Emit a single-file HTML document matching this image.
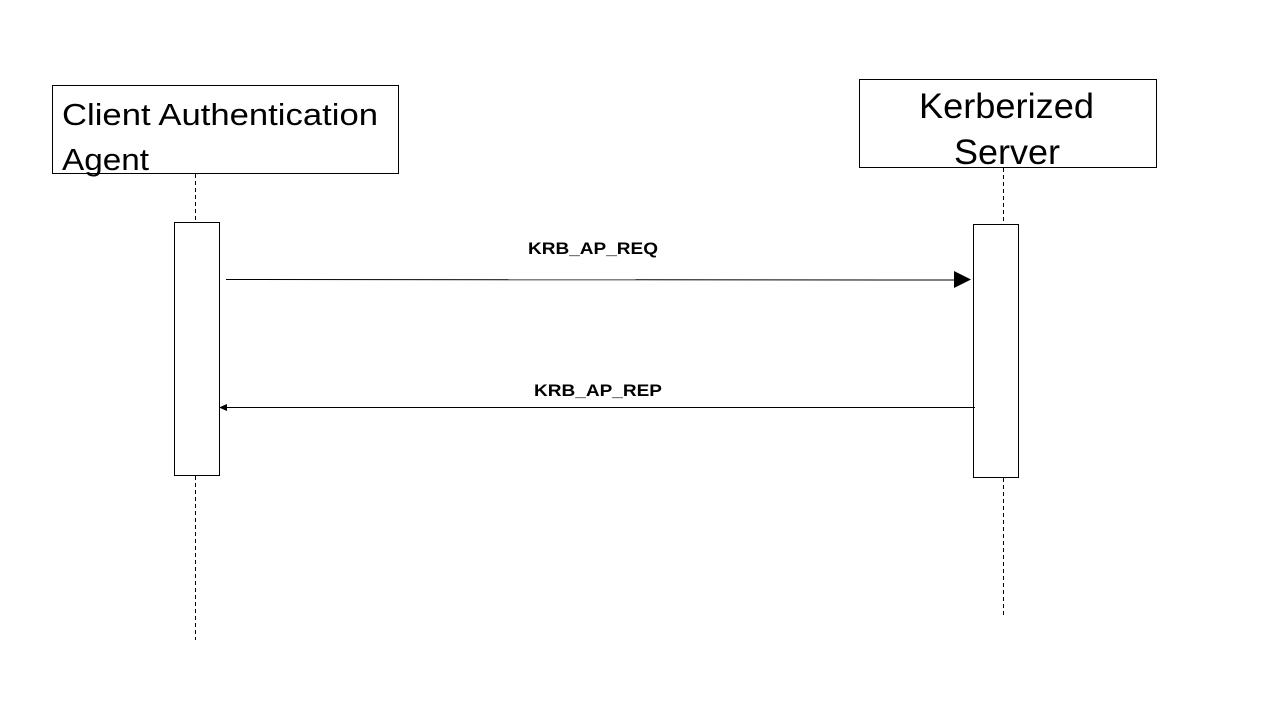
<!DOCTYPE html>
<html><head><meta charset="utf-8"><style>
html,body{margin:0;padding:0;background:#fff;}
svg{display:block;}
</style></head><body>
<svg width="1280" height="720" viewBox="0 0 1280 720" xmlns="http://www.w3.org/2000/svg">
<rect x="0" y="0" width="1280" height="720" fill="#fff"/>
<g stroke="#000" stroke-width="1" fill="#fff">
<rect x="52.5" y="85.5" width="346" height="88"/>
<rect x="859.5" y="79.5" width="297" height="88"/>
</g>
<g stroke="#000" stroke-width="1" stroke-dasharray="4,3">
<line x1="195.5" y1="174" x2="195.5" y2="222"/>
<line x1="195.5" y1="476" x2="195.5" y2="640"/>
<line x1="1003.5" y1="168" x2="1003.5" y2="224"/>
<line x1="1003.5" y1="478" x2="1003.5" y2="618"/>
</g>
<g stroke="#000" stroke-width="1" fill="#fff">
<rect x="174.5" y="222.5" width="45" height="253"/>
<rect x="973.5" y="224.5" width="45" height="253"/>
</g>
<line x1="226" y1="279.5" x2="956" y2="280" stroke="#000" stroke-width="1"/>
<polygon points="954,271 971,279.5 954,288" fill="#000"/>
<line x1="226" y1="407.5" x2="975" y2="407.5" stroke="#000" stroke-width="1"/>
<polygon points="219,407.5 227,404 227,411" fill="#000"/>
<g font-family="Liberation Sans, sans-serif" fill="#000">
<text x="62" y="125" font-size="31" textLength="316" lengthAdjust="spacingAndGlyphs">Client Authentication</text>
<text x="62" y="170" font-size="31" textLength="87" lengthAdjust="spacingAndGlyphs">Agent</text>
<text x="919" y="118" font-size="35" textLength="175" lengthAdjust="spacingAndGlyphs">Kerberized</text>
<text x="954" y="164" font-size="35" textLength="106" lengthAdjust="spacingAndGlyphs">Server</text>
<text x="528" y="254" font-size="17" font-weight="bold" textLength="130" lengthAdjust="spacingAndGlyphs">KRB_AP_REQ</text>
<text x="534" y="396" font-size="17" font-weight="bold" textLength="128" lengthAdjust="spacingAndGlyphs">KRB_AP_REP</text>
</g>
</svg>
</body></html>
